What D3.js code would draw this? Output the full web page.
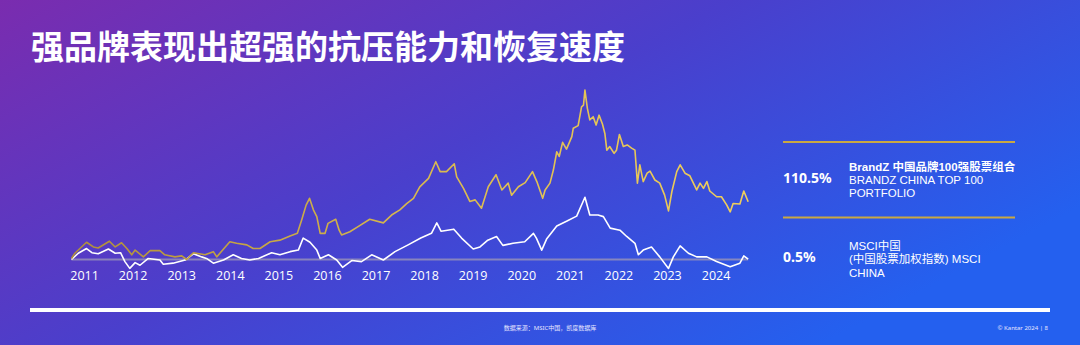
<!DOCTYPE html>
<html>
<head>
<meta charset="utf-8">
<script src="https://cdn.jsdelivr.net/npm/d3@7"></script>
<style>
  html, body { margin: 0; padding: 0; background: #4a40cc; }
  svg { display: block; }
  text { font-family: "Noto Sans", "Noto Sans CJK SC", sans-serif; }
</style>
</head>
<body>
<div id="chart"></div>
<script>
const width = 1080;
const height = 345;

// x = fractional year, y = cumulative return in %
const years = [2011, 2012, 2013, 2014, 2015, 2016, 2017, 2018, 2019, 2020, 2021, 2022, 2023, 2024];

const brandzDates = [2011.01, 2011.08, 2011.32, 2011.46, 2011.56, 2011.79, 2011.91, 2012.04, 2012.15, 2012.25, 2012.32, 2012.49, 2012.63, 2012.83, 2012.93, 2013.14, 2013.28, 2013.38, 2013.52, 2013.76, 2013.93, 2014.00, 2014.27, 2014.41, 2014.62, 2014.75, 2014.89, 2015.10, 2015.30, 2015.51, 2015.66, 2015.75, 2015.84, 2015.91, 2015.99, 2016.06, 2016.13, 2016.23, 2016.29, 2016.45, 2016.52, 2016.57, 2016.74, 2016.91, 2017.15, 2017.43, 2017.60, 2017.77, 2017.91, 2018.05, 2018.18, 2018.36, 2018.51, 2018.60, 2018.73, 2018.89, 2018.94, 2019.08, 2019.21, 2019.32, 2019.45, 2019.59, 2019.75, 2019.87, 2020.00, 2020.07, 2020.21, 2020.35, 2020.50,
  2020.59, 2020.71, 2020.76, 2020.86, 2020.93, 2021.00, 2021.05, 2021.12, 2021.20, 2021.31, 2021.34, 2021.44, 2021.51, 2021.55, 2021.58, 2021.63, 2021.68, 2021.75, 2021.81, 2021.87, 2021.94, 2021.99, 2022.03, 2022.09, 2022.18, 2022.23, 2022.29, 2022.37, 2022.45, 2022.54, 2022.61, 2022.66, 2022.71, 2022.78, 2022.86, 2022.92, 2023.02, 2023.12, 2023.22, 2023.30, 2023.37, 2023.47, 2023.54, 2023.64, 2023.74, 2023.88, 2023.95, 2024.02, 2024.09, 2024.15, 2024.29, 2024.39, 2024.50, 2024.57, 2024.63, 2024.77, 2024.85, 2024.94];
const brandzValues = [2, 12, 33, 24, 22, 35, 24, 32, 21, 9, 18, 5, 17, 17, 9, 5, 7, 0, 13, 9, 15, 5, 34, 31, 28, 21, 21, 34, 37, 45, 50, 76, 104, 117, 95, 82, 50, 50, 69, 77, 56, 47, 53, 63, 77, 70, 85, 95, 107, 117, 139, 155, 187, 168, 168, 183, 158, 136, 111, 114, 98, 139, 162, 133, 146, 123, 139, 147, 168,
  149, 117, 133, 146, 171, 206, 197, 224, 211, 235, 251, 256, 292, 295, 324, 289, 267, 273, 257, 276, 259, 241, 209, 216, 203, 209, 239, 216, 219, 213, 209, 146, 181, 149, 165, 169, 152, 146, 123, 93, 130, 168, 181, 165, 160, 133, 146, 136, 149, 131, 120, 120, 104, 91, 107, 106, 131, 110.5];

const msciDates = [2011.01, 2011.15, 2011.32, 2011.43, 2011.56, 2011.77, 2011.91, 2012.02, 2012.11, 2012.21, 2012.32, 2012.42, 2012.59, 2012.83, 2012.90, 2013.10, 2013.35, 2013.52, 2013.69, 2013.79, 2013.93, 2014.14, 2014.34, 2014.51, 2014.68, 2014.86, 2015.13, 2015.30, 2015.51, 2015.68, 2015.78, 2015.92, 2016.06, 2016.13, 2016.30, 2016.47, 2016.59, 2016.78, 2016.98, 2017.19, 2017.43, 2017.67, 2017.94, 2018.20, 2018.42, 2018.53, 2018.62, 2018.88, 2019.04, 2019.28, 2019.42, 2019.58, 2019.76, 2019.89, 2020.10, 2020.34, 2020.52, 2020.58, 2020.69, 2020.79, 2021.00, 2021.20, 2021.41, 2021.58, 2021.68, 2021.85, 2021.96, 2022.10, 2022.30, 2022.44, 2022.61, 2022.68, 2022.78, 2022.95, 2023.12, 2023.30, 2023.40, 2023.54, 2023.71, 2023.88, 2024.09, 2024.29, 2024.57, 2024.77, 2024.85, 2024.94];
const msciValues = [0, 12, 21, 13, 11, 20, 12, 13, -4, -17, -6, -11, 2, -1, -9, -7, -1, 11, 5, 2, -7, -1, 9, 2, -1, 2, 13, 9, 15, 18, 41, 33, 18, 2, 9, -1, -15, -2, -4, 9, -1, 15, 28, 41, 50, 70, 54, 58, 41, 20, 24, 37, 44, 27, 31, 34, 50, 41, 18, 39, 64, 73, 83, 119, 85, 85, 82, 60, 56, 44, 31, 9, 18, 24, 5, -17, 5, 26, 12, 5, 5, -4, -14, -7, 7, 0.5];

const title = '强品牌表现出超强的抗压能力和恢复速度';
const legendValues = ['110.5%', '0.5%'];
const legendLines = [
  ['BrandZ 中国品牌100强股票组合', 'BRANDZ CHINA TOP 100', 'PORTFOLIO'],
  ['MSCI中国', '(中国股票加权指数) MSCI', 'CHINA']
];
const footerSource = '数据来源：MSIC中国，凯度数据库';
const footerRight = '© Kantar 2024 | 8';

const svg = d3.select('#chart')
  .append('svg')
  .attr('width', width)
  .attr('height', height);

const defs = svg.append('defs');
const bg = defs.append('linearGradient')
  .attr('id', 'bg')
  .attr('x1', 0).attr('y1', 0).attr('x2', 1).attr('y2', 0.6);
bg.append('stop').attr('offset', 0).attr('stop-color', '#7a2caf');
bg.append('stop').attr('offset', 0.5).attr('stop-color', '#4a3fcc');
bg.append('stop').attr('offset', 1).attr('stop-color', '#2460ef');

const goldGrad = defs.append('linearGradient')
  .attr('id', 'gold')
  .attr('gradientUnits', 'userSpaceOnUse')
  .attr('x1', 70).attr('y1', 0).attr('x2', 750).attr('y2', 0);
goldGrad.append('stop').attr('offset', 0).attr('stop-color', '#b08f3a');
goldGrad.append('stop').attr('offset', 0.5).attr('stop-color', '#d8b84e');
goldGrad.append('stop').attr('offset', 1).attr('stop-color', '#f0cf5c');

svg.append('rect')
  .attr('width', width)
  .attr('height', height)
  .attr('fill', 'url(#bg)');

svg.append('text')
  .attr('x', 31)
  .attr('y', 59)
  .attr('fill', '#fff')
  .attr('font-size', 33)
  .attr('font-weight', 700)
  .style('font-family', '"Noto Sans CJK SC", sans-serif')
  .text(title);

const xScale = d3.scaleLinear()
  .domain([2011, 2024])
  .range([71, 702.5]);

const yScale = d3.scaleLinear()
  .domain([0, 100])
  .range([259.5, 207.2]);

const xAxis = d3.axisBottom(xScale)
  .tickValues(years)
  .tickFormat(d3.format('d'))
  .tickSize(0)
  .tickPadding(9);

const axisG = svg.append('g')
  .attr('transform', 'translate(0, 262)')
  .call(xAxis);
axisG.select('.domain').remove();
axisG.selectAll('text')
  .attr('fill', '#fff')
  .attr('font-size', 12.5)
  .attr('text-anchor', 'start')
  .attr('dx', '-0.1em')
  .style('font-family', '"Open Sans", sans-serif');

const lastDate = brandzDates[brandzDates.length - 1];
svg.append('line')
  .attr('x1', xScale(brandzDates[0]))
  .attr('x2', xScale(lastDate))
  .attr('y1', yScale(0))
  .attr('y2', yScale(0))
  .attr('stroke', '#9a93b8')
  .attr('stroke-opacity', 0.8)
  .attr('stroke-width', 2);

const line = d3.line()
  .x(d => xScale(d[0]))
  .y(d => yScale(d[1]));

svg.append('path')
  .datum(d3.zip(msciDates, msciValues))
  .attr('d', line)
  .attr('fill', 'none')
  .attr('stroke', '#fff')
  .attr('stroke-width', 1.6)
  .attr('stroke-linejoin', 'round');

svg.append('path')
  .datum(d3.zip(brandzDates, brandzValues))
  .attr('d', line)
  .attr('fill', 'none')
  .attr('stroke', 'url(#gold)')
  .attr('stroke-width', 1.6)
  .attr('stroke-linejoin', 'round');

// legend
const legendTops = [142, 217.5];
const legend = svg.append('g');
legendTops.forEach((top, i) => {
  legend.append('line')
    .attr('x1', 783).attr('x2', 1015)
    .attr('y1', top).attr('y2', top)
    .attr('stroke', '#c9a843')
    .attr('stroke-width', 2);

  legend.append('text')
    .attr('x', 783)
    .attr('y', top + (i === 0 ? 40.5 : 44))
    .attr('fill', '#fff')
    .attr('font-size', 14)
    .attr('font-weight', 700)
    .text(legendValues[i]);

  legendLines[i].forEach((s, j) => {
    legend.append('text')
      .attr('x', 849)
      .attr('y', top + (i === 0 ? 28.5 : 32.5) + j * 13.3)
      .attr('fill', '#fff')
      .attr('font-size', 11.5)
      .attr('font-weight', i === 0 && j === 0 ? 700 : 400)
      .style('font-family', '"Liberation Sans", "Noto Sans CJK SC", sans-serif')
      .text(s);
  });
});

svg.append('rect')
  .attr('x', 30).attr('y', 308)
  .attr('width', 1020).attr('height', 4)
  .attr('fill', '#fff');

svg.append('text')
  .attr('x', 550).attr('y', 330)
  .attr('text-anchor', 'middle')
  .attr('fill', '#e6e6ff')
  .attr('font-size', 6)
  .text(footerSource);

svg.append('text')
  .attr('x', 1048).attr('y', 330)
  .attr('text-anchor', 'end')
  .attr('fill', '#e6e6ff')
  .attr('font-size', 6)
  .text(footerRight);
</script>
</body>
</html>
